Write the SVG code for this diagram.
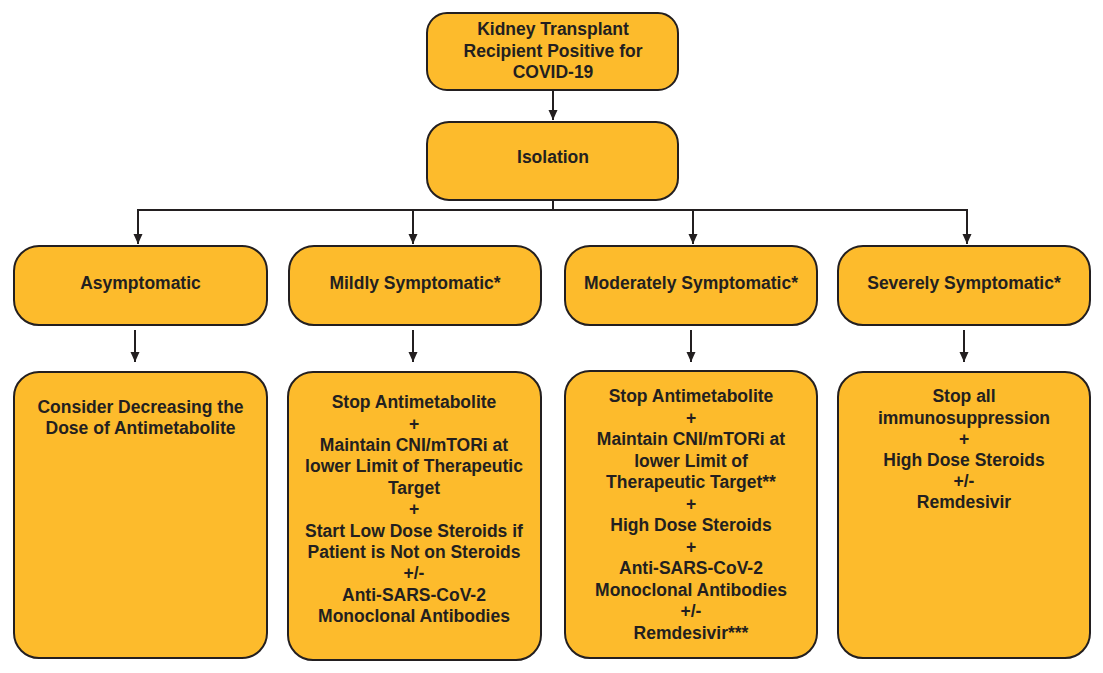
<svg xmlns="http://www.w3.org/2000/svg" width="1103" height="673" viewBox="0 0 1103 673">
<style>
.box{fill:#FDBB2C;stroke:#231F20;stroke-width:2}
.t{font-family:"Liberation Sans",Arial,sans-serif;font-weight:bold;font-size:17.5px;fill:#231F20;text-anchor:middle}
.c{fill:none;stroke:#231F20;stroke-width:2}
</style>
<defs>
<marker id="ah" markerUnits="userSpaceOnUse" markerWidth="10" markerHeight="10" refX="10" refY="4.5" orient="auto">
<path d="M0,0 L10,4.5 L0,9 z" fill="#231F20"/>
</marker>
</defs>
<rect width="1103" height="673" fill="#ffffff"/>
<g id="connectors">
<path class="c" d="M553,90 V120" marker-end="url(#ah)"/>
<path class="c" d="M553,200 V210"/>
<path class="c" d="M138,210 H967"/>
<path class="c" d="M138,209 V244" marker-end="url(#ah)"/>
<path class="c" d="M413,210 V244" marker-end="url(#ah)"/>
<path class="c" d="M693,210 V244" marker-end="url(#ah)"/>
<path class="c" d="M967,209 V244" marker-end="url(#ah)"/>
<path class="c" d="M135,330 V362" marker-end="url(#ah)"/>
<path class="c" d="M413,330 V362" marker-end="url(#ah)"/>
<path class="c" d="M691,330 V362" marker-end="url(#ah)"/>
<path class="c" d="M964,330 V362" marker-end="url(#ah)"/>
</g>
<g id="n-kidney">
<rect class="box" x="427" y="13" width="251" height="77" rx="20"/>
<text class="t" x="553" y="35">Kidney Transplant</text>
<text class="t" x="553" y="57">Recipient Positive for</text>
<text class="t" x="553" y="78">COVID-19</text>
</g>
<g id="n-isolation">
<rect class="box" x="427" y="122" width="251" height="78" rx="22"/>
<text class="t" x="553" y="163">Isolation</text>
</g>
<g id="n-asym">
<rect class="box" x="14" y="246" width="253" height="79" rx="25"/>
<text class="t" x="140.5" y="289">Asymptomatic</text>
</g>
<g id="n-mild">
<rect class="box" x="289" y="246" width="252" height="79" rx="25"/>
<text class="t" x="415" y="289">Mildly Symptomatic*</text>
</g>
<g id="n-mod">
<rect class="box" x="565" y="246" width="252" height="79" rx="25"/>
<text class="t" x="691" y="289">Moderately Symptomatic*</text>
</g>
<g id="n-sev">
<rect class="box" x="838" y="246" width="252" height="79" rx="25"/>
<text class="t" x="964" y="289">Severely Symptomatic*</text>
</g>
<g id="n-asym-tx">
<rect class="box" x="14" y="372" width="253" height="286" rx="25"/>
<text class="t" x="140.5" y="413">Consider Decreasing the</text>
<text class="t" x="140.5" y="434">Dose of Antimetabolite</text>
</g>
<g id="n-mild-tx">
<rect class="box" x="288" y="372" width="253" height="288" rx="25"/>
<text class="t" x="414" y="408">Stop Antimetabolite</text>
<text class="t" x="414" y="429.5">+</text>
<text class="t" x="414" y="451">Maintain CNI/mTORi at</text>
<text class="t" x="414" y="472">lower Limit of Therapeutic</text>
<text class="t" x="414" y="493.5">Target</text>
<text class="t" x="414" y="515">+</text>
<text class="t" x="414" y="536.5">Start Low Dose Steroids if</text>
<text class="t" x="414" y="558">Patient is Not on Steroids</text>
<text class="t" x="414" y="579">+/-</text>
<text class="t" x="414" y="600.5">Anti-SARS-CoV-2</text>
<text class="t" x="414" y="622">Monoclonal Antibodies</text>
</g>
<g id="n-mod-tx">
<rect class="box" x="565" y="371" width="252" height="287" rx="25"/>
<text class="t" x="691" y="402">Stop Antimetabolite</text>
<text class="t" x="691" y="423.5">+</text>
<text class="t" x="691" y="445">Maintain CNI/mTORi at</text>
<text class="t" x="691" y="466.5">lower Limit of</text>
<text class="t" x="691" y="488">Therapeutic Target**</text>
<text class="t" x="691" y="509.5">+</text>
<text class="t" x="691" y="531">High Dose Steroids</text>
<text class="t" x="691" y="552.5">+</text>
<text class="t" x="691" y="574">Anti-SARS-CoV-2</text>
<text class="t" x="691" y="595.5">Monoclonal Antibodies</text>
<text class="t" x="691" y="617">+/-</text>
<text class="t" x="691" y="638.5">Remdesivir***</text>
</g>
<g id="n-sev-tx">
<rect class="box" x="838" y="372" width="252" height="286" rx="25"/>
<text class="t" x="964" y="402">Stop all</text>
<text class="t" x="964" y="423.5">immunosuppression</text>
<text class="t" x="964" y="445">+</text>
<text class="t" x="964" y="466">High Dose Steroids</text>
<text class="t" x="964" y="487">+/-</text>
<text class="t" x="964" y="508">Remdesivir</text>
</g>
</svg>
